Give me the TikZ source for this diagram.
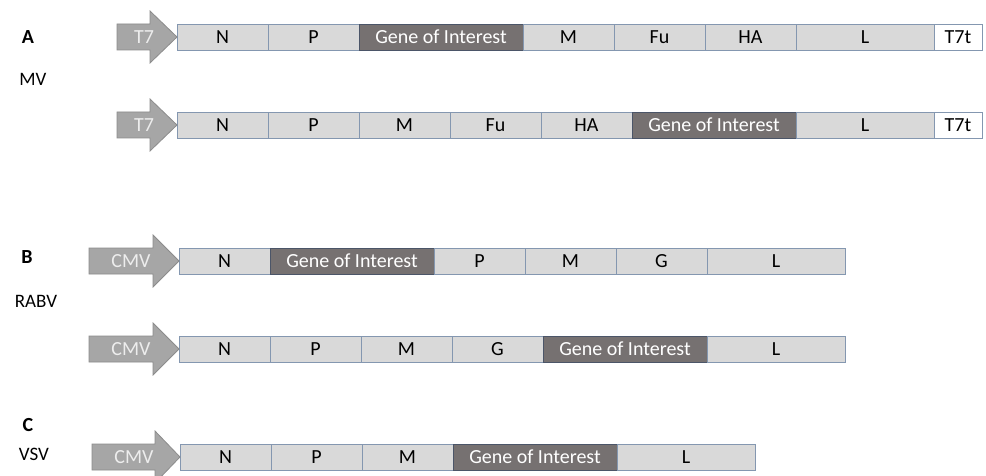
\documentclass[tikz,border=0pt]{standalone}
\usepackage{fontspec}
\setmainfont{Carlito}
\usepackage{tikz}
\usetikzlibrary{positioning}

\definecolor{seggray}{HTML}{D9D9D9}
\definecolor{segline}{HTML}{8497B0}
\definecolor{goigray}{HTML}{767171}
\definecolor{goiline}{HTML}{4B5568}
\definecolor{promogray}{HTML}{A6A6A6}
\definecolor{promoline}{HTML}{8C8C8C}
\definecolor{promotext}{HTML}{EDEDED}

\tikzset{
  seg/.style={draw=segline, fill=seggray, line width=0.9pt, minimum height=26pt,
    minimum width=91pt, inner sep=0pt, outer sep=0pt, font=\fontsize{20}{24}\selectfont},
  goi/.style={seg, draw=goiline, fill=goigray, text=white, minimum width=164pt},
  lseg/.style={seg, minimum width=138pt},
  term/.style={seg, fill=white, minimum width=48pt},
  promo/.style={draw=promoline, fill=promogray, line width=0.8pt, line join=miter},
  promolabel/.style={text=promotext, font=\fontsize{20}{24}\selectfont},
  panel/.style={font=\fontsize{20}{24}\selectfont\bfseries},
  virus/.style={font=\fontsize{19}{24}\selectfont}
}

\begin{document}
\begin{tikzpicture}[x=1pt, y=-1pt]
                \clip (0,0) rectangle (986,476);
                \fill[white] (0,0) rectangle (986,476);

                % A: MV, gene after P
                \node[panel] (labA) at (28,37) {A};
                \node[virus] (labMV) at (33,79) {MV};
                \node[seg, anchor=west] (a1n) at (177,37) {N};
                \node[seg, right=0pt of a1n] (a1p) {P};
                \node[goi, right=0pt of a1p] (a1goi) {Gene of Interest};
                \node[seg, right=0pt of a1goi] (a1m) {M};
                \node[seg, right=0pt of a1m] (a1fu) {Fu};
                \node[seg, right=0pt of a1fu] (a1ha) {HA};
                \node[lseg, right=0pt of a1ha] (a1l) {L};
                \node[term, right=0pt of a1l] (a1t) {T7t};
                \draw[promo] (117,24) -- (150,24) -- (150,11) -- (a1n.west) -- (150,63) -- (150,50) -- (117,50) -- cycle;
                \node[promolabel] (a1pr) at (144,37) {T7};

                % A: MV, gene after HA
                \node[seg, anchor=west] (a2n) at (177,125) {N};
                \node[seg, right=0pt of a2n] (a2p) {P};
                \node[seg, right=0pt of a2p] (a2m) {M};
                \node[seg, right=0pt of a2m] (a2fu) {Fu};
                \node[seg, right=0pt of a2fu] (a2ha) {HA};
                \node[goi, right=0pt of a2ha] (a2goi) {Gene of Interest};
                \node[lseg, right=0pt of a2goi] (a2l) {L};
                \node[term, right=0pt of a2l] (a2t) {T7t};
                \draw[promo] (117,112) -- (150,112) -- (150,99) -- (a2n.west) -- (150,151) -- (150,138) -- (117,138) -- cycle;
                \node[promolabel] (a2pr) at (144,125) {T7};

                % B: RABV, gene after N
                \node[panel] (labB) at (27,257) {B};
                \node[virus] (labRABV) at (36,301) {RABV};
                \node[seg, anchor=west] (b1n) at (179,261) {N};
                \node[goi, right=0pt of b1n] (b1goi) {Gene of Interest};
                \node[seg, right=0pt of b1goi] (b1p) {P};
                \node[seg, right=0pt of b1p] (b1m) {M};
                \node[seg, right=0pt of b1m] (b1g) {G};
                \node[lseg, right=0pt of b1g] (b1l) {L};
                \draw[promo] (89,248) -- (153,248) -- (153,235) -- (b1n.west) -- (153,287) -- (153,274) -- (89,274) -- cycle;
                \node[promolabel] (b1pr) at (131,261) {CMV};

                % B: RABV, gene after G
                \node[seg, anchor=west] (b2n) at (179,349) {N};
                \node[seg, right=0pt of b2n] (b2p) {P};
                \node[seg, right=0pt of b2p] (b2m) {M};
                \node[seg, right=0pt of b2m] (b2g) {G};
                \node[goi, right=0pt of b2g] (b2goi) {Gene of Interest};
                \node[lseg, right=0pt of b2goi] (b2l) {L};
                \draw[promo] (89,336) -- (153,336) -- (153,323) -- (b2n.west) -- (153,375) -- (153,362) -- (89,362) -- cycle;
                \node[promolabel] (b2pr) at (131,349) {CMV};

                % C: VSV, gene after M
                \node[panel] (labC) at (28,425) {C};
                \node[virus] (labVSV) at (34,454) {VSV};
                \node[seg, anchor=west] (cn) at (180,457) {N};
                \node[seg, right=0pt of cn] (cp) {P};
                \node[seg, right=0pt of cp] (cm) {M};
                \node[goi, right=0pt of cm] (cgoi) {Gene of Interest};
                \node[lseg, right=0pt of cgoi] (cl) {L};
                \draw[promo] (92,444) -- (155,444) -- (155,431) -- (cn.west) -- (155,483) -- (155,470) -- (92,470) -- cycle;
                \node[promolabel] (cpr) at (134,457) {CMV};
            \end{tikzpicture}
\end{document}
